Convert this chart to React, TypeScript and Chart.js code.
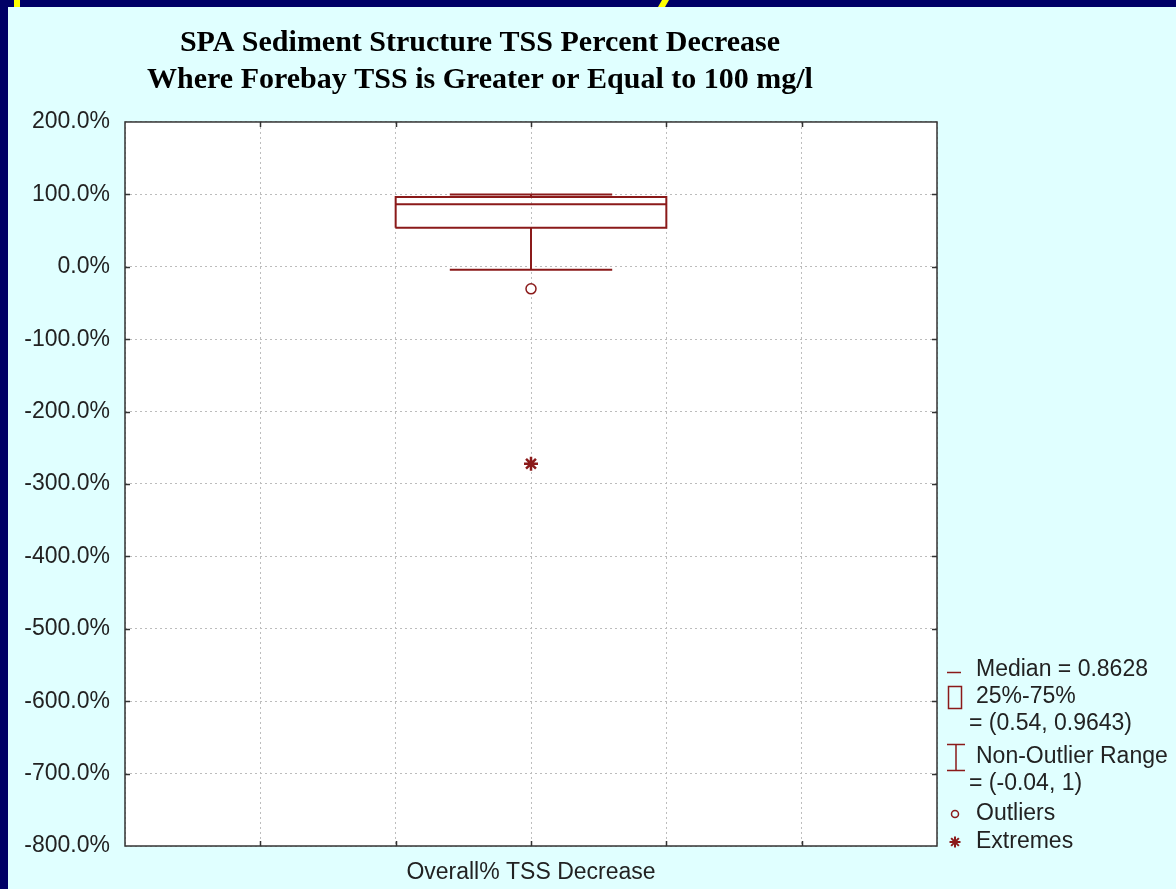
import { useEffect, useRef } from 'react';
import { Chart, registerables } from 'chart.js';

Chart.register(...registerables);

// ---- data ----
const categories = ['Overall% TSS Decrease'];
const q1Values = [0.54];
const medianValues = [0.8628];
const q3Values = [0.9643];
const whiskerLowValues = [-0.04];
const whiskerHighValues = [1];
const outlierValues = [-0.305];
const extremeValues = [-2.72];
const yMin = -8;
const yMax = 2;
const titleLines = [
  'SPA Sediment Structure TSS Percent Decrease',
  'Where Forebay TSS is Greater or Equal to 100 mg/l',
];

const MAROON = '#8b1a1a';
const SANS = '"Liberation Sans", Arial, sans-serif';
const SERIF = '"Liberation Serif", "Times New Roman", serif';
const CENTER = 3; // x position of the single category
const BOX_HALF = 1;
const CAP_HALF = 0.6;

const fmtPct = (v: number) => (v * 100).toFixed(1) + '%';

const bgPlugin = {
  id: 'plotBg',
  beforeDraw(chart: any) {
    const { ctx, chartArea: a } = chart;
    ctx.save();
    ctx.fillStyle = '#ffffff';
    ctx.fillRect(a.left, a.top, a.right - a.left, a.bottom - a.top);
    ctx.restore();
  },
};

const framePlugin = {
  id: 'frame',
  afterDraw(chart: any) {
    const { ctx, chartArea: a, scales } = chart;
    ctx.save();
    ctx.strokeStyle = '#333333';
    ctx.lineWidth = 1.5;
    ctx.strokeRect(a.left, a.top, a.right - a.left, a.bottom - a.top);
    // inward tick marks
    const tl = 5;
    scales.y.ticks.forEach((t: any) => {
      if (t.value <= yMin || t.value >= yMax) return;
      const y = Math.round(scales.y.getPixelForValue(t.value)) + 0.5;
      ctx.beginPath();
      ctx.moveTo(a.left, y);
      ctx.lineTo(a.left + tl, y);
      ctx.moveTo(a.right, y);
      ctx.lineTo(a.right - tl, y);
      ctx.stroke();
    });
    scales.x.ticks.forEach((t: any) => {
      if (t.value <= 0 || t.value >= 6) return;
      const x = Math.round(scales.x.getPixelForValue(t.value)) + 0.5;
      ctx.beginPath();
      ctx.moveTo(x, a.bottom);
      ctx.lineTo(x, a.bottom - tl);
      ctx.moveTo(x, a.top);
      ctx.lineTo(x, a.top + tl);
      ctx.stroke();
    });
    ctx.restore();
  },
};

const legendPlugin = {
  id: 'boxLegend',
  afterDraw(chart: any) {
    const { ctx } = chart;
    const textX = 968;
    const contX = 961;
    ctx.save();
    ctx.font = `23px ${SANS}`;
    ctx.fillStyle = '#222222';
    ctx.textBaseline = 'middle';
    ctx.textAlign = 'left';
    ctx.strokeStyle = MAROON;
    ctx.lineWidth = 1.5;

    // Median
    ctx.beginPath();
    ctx.moveTo(939, 665.5);
    ctx.lineTo(953, 665.5);
    ctx.stroke();
    ctx.fillText(`Median = ${medianValues[0]}`, textX, 663);

    // 25%-75%
    ctx.strokeRect(940.5, 679.5, 13, 22);
    ctx.fillText('25%-75%', textX, 690);
    ctx.fillText(`= (${q1Values[0]}, ${q3Values[0]})`, contX, 717);

    // Non-outlier range
    ctx.beginPath();
    ctx.moveTo(939, 737.5);
    ctx.lineTo(957, 737.5);
    ctx.moveTo(948, 737.5);
    ctx.lineTo(948, 763.5);
    ctx.moveTo(939, 763.5);
    ctx.lineTo(957, 763.5);
    ctx.stroke();
    ctx.fillText('Non-Outlier Range', textX, 750);
    ctx.fillText(`= (${whiskerLowValues[0]}, ${whiskerHighValues[0]})`, contX, 777);

    // Outliers
    ctx.beginPath();
    ctx.arc(947, 807, 3.5, 0, Math.PI * 2);
    ctx.stroke();
    ctx.fillText('Outliers', textX, 807);

    // Extremes
    ctx.lineWidth = 2;
    const r = 5.5;
    const cx = 947;
    const cy = 835;
    ctx.beginPath();
    ctx.moveTo(cx - r, cy);
    ctx.lineTo(cx + r, cy);
    ctx.moveTo(cx, cy - r);
    ctx.lineTo(cx, cy + r);
    const d = r * 0.7;
    ctx.moveTo(cx - d, cy - d);
    ctx.lineTo(cx + d, cy + d);
    ctx.moveTo(cx - d, cy + d);
    ctx.lineTo(cx + d, cy - d);
    ctx.stroke();
    ctx.fillText('Extremes', textX, 835);
    ctx.restore();
  },
};

export default function App() {
  const ref = useRef<HTMLCanvasElement | null>(null);

  useEffect(() => {
    if (!ref.current) return;
    const i = 0;
    const q1 = q1Values[i];
    const q3 = q3Values[i];
    const med = medianValues[i];
    const lo = whiskerLowValues[i];
    const hi = whiskerHighValues[i];
    const line = {
      showLine: true,
      pointRadius: 0,
      borderColor: MAROON,
      borderWidth: 2,
      fill: false,
      tension: 0,
      borderJoinStyle: 'miter',
      borderCapStyle: 'butt',
    };
    const datasets: any[] = [
      {
        ...line,
        label: 'box',
        data: [
          { x: CENTER - BOX_HALF, y: q1 },
          { x: CENTER + BOX_HALF, y: q1 },
          { x: CENTER + BOX_HALF, y: q3 },
          { x: CENTER - BOX_HALF, y: q3 },
          { x: CENTER - BOX_HALF, y: q1 },
        ],
      },
      {
        ...line,
        label: 'median',
        data: [
          { x: CENTER - BOX_HALF, y: med },
          { x: CENTER + BOX_HALF, y: med },
        ],
      },
      {
        ...line,
        label: 'upper whisker',
        data: [
          { x: CENTER, y: q3 },
          { x: CENTER, y: hi },
        ],
      },
      {
        ...line,
        label: 'upper cap',
        data: [
          { x: CENTER - CAP_HALF, y: hi },
          { x: CENTER + CAP_HALF, y: hi },
        ],
      },
      {
        ...line,
        label: 'lower whisker',
        data: [
          { x: CENTER, y: q1 },
          { x: CENTER, y: lo },
        ],
      },
      {
        ...line,
        label: 'lower cap',
        data: [
          { x: CENTER - CAP_HALF, y: lo },
          { x: CENTER + CAP_HALF, y: lo },
        ],
      },
      {
        label: 'Outliers',
        showLine: false,
        data: outlierValues.map((v) => ({ x: CENTER, y: v })),
        pointStyle: 'circle',
        pointRadius: 5,
        pointBackgroundColor: '#ffffff',
        pointBorderColor: MAROON,
        pointBorderWidth: 1.5,
      },
      {
        label: 'Extremes',
        showLine: false,
        data: extremeValues.map((v) => ({ x: CENTER, y: v })),
        pointStyle: 'star',
        pointRadius: 7,
        pointBackgroundColor: MAROON,
        pointBorderColor: MAROON,
        pointBorderWidth: 2.5,
      },
    ];

    const gridColor = '#bcbcbc';

    const chart = new Chart(ref.current, {
      type: 'scatter',
      data: { datasets },
      options: {
        animation: false,
        responsive: false,
        events: [],
        layout: { padding: { left: 15, right: 239, top: 0, bottom: 0 } },
        plugins: {
          legend: { display: false },
          tooltip: { enabled: false },
          title: {
            display: true,
            text: titleLines,
            color: '#000000',
            font: { family: SERIF, size: 30, weight: 'bold', lineHeight: 1.233 },
            padding: { top: 17.5, bottom: 23.5 },
          },
        },
        scales: {
          x: {
            type: 'linear',
            min: 0,
            max: 6,
            ticks: {
              stepSize: 1,
              autoSkip: false,
              maxRotation: 0,
              padding: 13,
              color: '#222222',
              font: { family: SANS, size: 23 },
              callback: (v: any) => (v === CENTER ? categories[0] : ''),
            },
            grid: { color: gridColor, drawTicks: false, lineWidth: 1 },
            border: { display: false, dash: [2, 3] },
            afterFit: (s: any) => {
              s.height = 43;
            },
          },
          y: {
            type: 'linear',
            min: yMin,
            max: yMax,
            ticks: {
              stepSize: 1,
              padding: 15,
              color: '#222222',
              font: { family: SANS, size: 23 },
              callback: (v: any) => fmtPct(Number(v)),
            },
            grid: { color: gridColor, drawTicks: false, lineWidth: 1 },
            border: { display: false, dash: [2, 3] },
            afterFit: (s: any) => {
              s.width = 102;
            },
          },
        },
      } as any,
      plugins: [bgPlugin, framePlugin, legendPlugin],
    });
    return () => chart.destroy();
  }, []);

  return (
    <div
      style={{
        position: 'fixed',
        left: 0,
        top: 0,
        width: 1176,
        height: 889,
        background: '#000066',
        overflow: 'hidden',
      }}
    >
      <div style={{ position: 'absolute', left: 14, top: 0, width: 6, height: 7, background: '#ffff00' }} />
      <div
        style={{
          position: 'absolute',
          left: 660,
          top: 0,
          width: 7,
          height: 7,
          background: '#ffff00',
          transform: 'skewX(-30deg)',
        }}
      />
      <div
        style={{
          position: 'absolute',
          left: 8,
          top: 7,
          width: 1168,
          height: 882,
          background: '#e0ffff',
        }}
      >
        <canvas ref={ref} width={1168} height={882} style={{ display: 'block' }} />
      </div>
    </div>
  );
}
